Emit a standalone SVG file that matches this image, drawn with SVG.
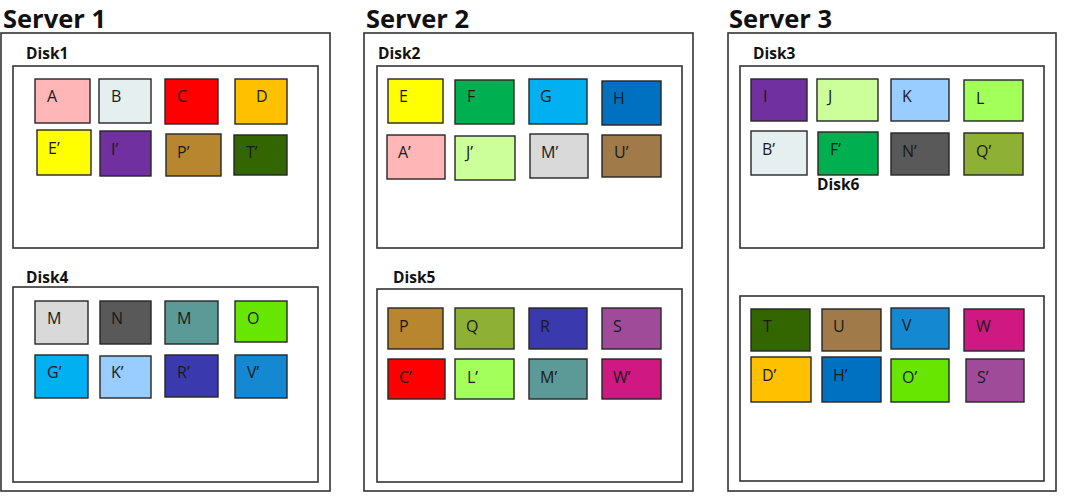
<svg xmlns="http://www.w3.org/2000/svg" width="1080" height="504" viewBox="0 0 1080 504">
<style>
.srv{fill:#fff;stroke:#333;stroke-width:1.6}
.dsk{fill:#fff;stroke:#333;stroke-width:1.6}
.blk{stroke:#262626;stroke-width:1.4}
.title{font-family:"Open Sans","Liberation Sans",sans-serif;font-weight:bold;font-size:25.5px;fill:#111}
.dl{font-family:"Open Sans","Liberation Sans",sans-serif;font-weight:bold;font-size:15.5px;fill:#111}
.bl{font-family:"Open Sans","Liberation Sans",sans-serif;font-size:16px;fill:#1a1a1a}
</style>
<rect width="1080" height="504" fill="#fff"/>

<g id="server1">
<text class="title" x="3" y="28">Server 1</text>
<rect class="srv" x="1" y="33" width="329" height="458"/>
</g>
<g id="disk1">
<text class="dl" x="26" y="59">Disk1</text>
<rect class="dsk" x="13" y="66" width="305" height="182"/>
</g>
<g id="blk-A"><rect class="blk" x="35" y="79" width="55" height="44" fill="#FFB6B6"/><text class="bl" x="47" y="102">A</text></g>
<g id="blk-B"><rect class="blk" x="99" y="79" width="52" height="44" fill="#E6EFF0"/><text class="bl" x="111" y="102">B</text></g>
<g id="blk-C"><rect class="blk" x="165" y="79" width="53" height="45" fill="#FF0000"/><text class="bl" x="177" y="102">C</text></g>
<g id="blk-D"><rect class="blk" x="235" y="79" width="52" height="45" fill="#FFC000"/><text class="bl" x="256" y="102">D</text></g>
<g id="blk-E2"><rect class="blk" x="37" y="130" width="54" height="45" fill="#FFFF00"/><text class="bl" x="48" y="154">E’</text></g>
<g id="blk-I2"><rect class="blk" x="100" y="131" width="51" height="45" fill="#7030A0"/><text class="bl" x="111" y="155">I’</text></g>
<g id="blk-P2"><rect class="blk" x="166" y="134" width="55" height="42" fill="#B8862F"/><text class="bl" x="177" y="158">P’</text></g>
<g id="blk-T2"><rect class="blk" x="234" y="135" width="53" height="40" fill="#336600"/><text class="bl" x="246" y="158">T’</text></g>

<g id="disk4">
<text class="dl" x="26" y="283">Disk4</text>
<rect class="dsk" x="13" y="287" width="305" height="195"/>
</g>
<g id="blk-M"><rect class="blk" x="35" y="301" width="53" height="43" fill="#D9D9D9"/><text class="bl" x="47" y="324">M</text></g>
<g id="blk-N"><rect class="blk" x="100" y="301" width="51" height="43" fill="#595959"/><text class="bl" x="111" y="324">N</text></g>
<g id="blk-M-teal"><rect class="blk" x="165" y="301" width="53" height="43" fill="#5B9A96"/><text class="bl" x="177" y="324">M</text></g>
<g id="blk-O"><rect class="blk" x="235" y="301" width="52" height="41" fill="#66E600"/><text class="bl" x="247" y="324">O</text></g>
<g id="blk-G2"><rect class="blk" x="35" y="355" width="53" height="43" fill="#00B0F0"/><text class="bl" x="47" y="378">G’</text></g>
<g id="blk-K2"><rect class="blk" x="100" y="356" width="51" height="42" fill="#99CCFF"/><text class="bl" x="111" y="378">K’</text></g>
<g id="blk-R2"><rect class="blk" x="165" y="355" width="53" height="42" fill="#3A3AAE"/><text class="bl" x="177" y="378">R’</text></g>
<g id="blk-V2"><rect class="blk" x="235" y="355" width="52" height="43" fill="#1488D0"/><text class="bl" x="247" y="378">V’</text></g>

<g id="server2">
<text class="title" x="366" y="28">Server 2</text>
<rect class="srv" x="364" y="33" width="329" height="458"/>
</g>
<g id="disk2">
<text class="dl" x="378" y="59">Disk2</text>
<rect class="dsk" x="377" y="66" width="305" height="182"/>
</g>
<g id="blk-E"><rect class="blk" x="388" y="79" width="55" height="44" fill="#FFFF00"/><text class="bl" x="399" y="102">E</text></g>
<g id="blk-F"><rect class="blk" x="455" y="80" width="59" height="44" fill="#00B050"/><text class="bl" x="467" y="102">F</text></g>
<g id="blk-G"><rect class="blk" x="529" y="79" width="58" height="45" fill="#00B0F0"/><text class="bl" x="540" y="102">G</text></g>
<g id="blk-H"><rect class="blk" x="602" y="81" width="59" height="44" fill="#0070C0"/><text class="bl" x="613" y="104">H</text></g>
<g id="blk-A2"><rect class="blk" x="387" y="135" width="58" height="44" fill="#FFB6B6"/><text class="bl" x="398" y="158">A’</text></g>
<g id="blk-J2"><rect class="blk" x="455" y="136" width="60" height="44" fill="#CCFF99"/><text class="bl" x="466" y="158">J’</text></g>
<g id="blk-M2"><rect class="blk" x="530" y="134" width="58" height="44" fill="#D9D9D9"/><text class="bl" x="541" y="158">M’</text></g>
<g id="blk-U2"><rect class="blk" x="602" y="135" width="59" height="42" fill="#A07A48"/><text class="bl" x="614" y="158">U’</text></g>

<g id="disk5">
<text class="dl" x="393" y="283">Disk5</text>
<rect class="dsk" x="377" y="289" width="305" height="193"/>
</g>
<g id="blk-P"><rect class="blk" x="388" y="308" width="55" height="41" fill="#B8862F"/><text class="bl" x="399" y="332">P</text></g>
<g id="blk-Q"><rect class="blk" x="455" y="308" width="59" height="41" fill="#8DB035"/><text class="bl" x="466" y="332">Q</text></g>
<g id="blk-R"><rect class="blk" x="529" y="308" width="58" height="41" fill="#3A3AAE"/><text class="bl" x="540" y="332">R</text></g>
<g id="blk-S"><rect class="blk" x="602" y="308" width="59" height="41" fill="#A04A9A"/><text class="bl" x="613" y="332">S</text></g>
<g id="blk-C2"><rect class="blk" x="388" y="359" width="57" height="40" fill="#FF0000"/><text class="bl" x="399" y="383">C’</text></g>
<g id="blk-L2"><rect class="blk" x="455" y="359" width="59" height="40" fill="#A3FF5A"/><text class="bl" x="467" y="383">L’</text></g>
<g id="blk-M2-teal"><rect class="blk" x="529" y="359" width="58" height="40" fill="#5B9A96"/><text class="bl" x="540" y="383">M’</text></g>
<g id="blk-W2"><rect class="blk" x="602" y="359" width="59" height="40" fill="#D01882"/><text class="bl" x="613" y="383">W’</text></g>

<g id="server3">
<text class="title" x="729" y="28">Server 3</text>
<rect class="srv" x="728" y="33" width="328" height="458"/>
</g>
<g id="disk3">
<text class="dl" x="753" y="59">Disk3</text>
<rect class="dsk" x="740" y="66" width="304" height="182"/>
</g>
<g id="blk-I"><rect class="blk" x="751" y="79" width="56" height="42" fill="#7030A0"/><text class="bl" x="763" y="102">I</text></g>
<g id="blk-J"><rect class="blk" x="817" y="79" width="61" height="42" fill="#CCFF99"/><text class="bl" x="828" y="102">J</text></g>
<g id="blk-K"><rect class="blk" x="891" y="79" width="58" height="42" fill="#99CCFF"/><text class="bl" x="902" y="102">K</text></g>
<g id="blk-L"><rect class="blk" x="964" y="80" width="59" height="41" fill="#A3FF5A"/><text class="bl" x="976" y="104">L</text></g>
<g id="blk-B2"><rect class="blk" x="751" y="131" width="56" height="44" fill="#E6EFF0"/><text class="bl" x="762" y="155">B’</text></g>
<g id="blk-F2"><rect class="blk" x="818" y="132" width="60" height="43" fill="#00B050"/><text class="bl" x="830" y="155">F’</text></g>
<g id="blk-N2"><rect class="blk" x="891" y="133" width="58" height="42" fill="#595959"/><text class="bl" x="902" y="157">N’</text></g>
<g id="blk-Q2"><rect class="blk" x="964" y="133" width="59" height="42" fill="#8DB035"/><text class="bl" x="976" y="157">Q’</text></g>

<g id="disk6">
<text class="dl" x="817" y="190">Disk6</text>
<rect class="dsk" x="740" y="296" width="304" height="185"/>
</g>
<g id="blk-T"><rect class="blk" x="751" y="309" width="59" height="42" fill="#336600"/><text class="bl" x="763" y="332">T</text></g>
<g id="blk-U"><rect class="blk" x="822" y="309" width="59" height="42" fill="#A07A48"/><text class="bl" x="833" y="332">U</text></g>
<g id="blk-V"><rect class="blk" x="891" y="308" width="58" height="41" fill="#1488D0"/><text class="bl" x="902" y="331">V</text></g>
<g id="blk-W"><rect class="blk" x="964" y="309" width="60" height="42" fill="#D01882"/><text class="bl" x="976" y="332">W</text></g>
<g id="blk-D2"><rect class="blk" x="751" y="357" width="60" height="45" fill="#FFC000"/><text class="bl" x="762" y="381">D’</text></g>
<g id="blk-H2"><rect class="blk" x="822" y="357" width="59" height="45" fill="#0070C0"/><text class="bl" x="833" y="381">H’</text></g>
<g id="blk-O2"><rect class="blk" x="891" y="359" width="58" height="43" fill="#66E600"/><text class="bl" x="902" y="383">O’</text></g>
<g id="blk-S2"><rect class="blk" x="966" y="359" width="58" height="43" fill="#A04A9A"/><text class="bl" x="977" y="383">S’</text></g>
</svg>
